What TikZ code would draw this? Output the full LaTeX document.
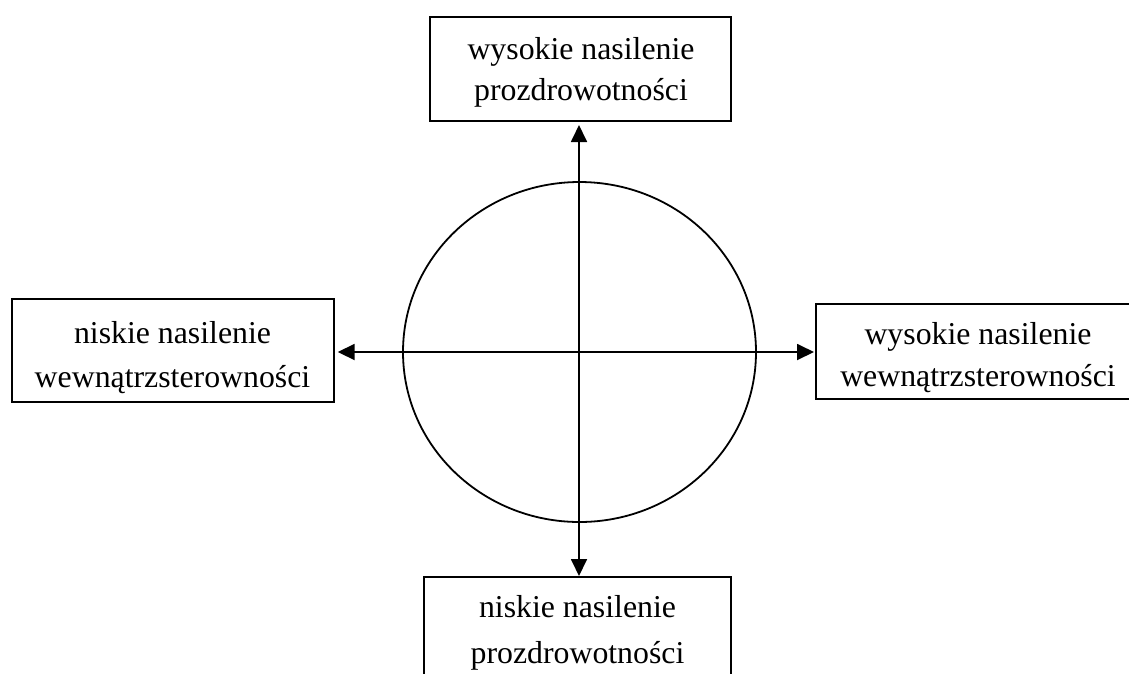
\documentclass[tikz,border=0pt]{standalone}
\usepackage{fontspec}
\setmainfont{Liberation Serif}
\usetikzlibrary{arrows.meta,shapes.geometric}
\begin{document}
\begin{tikzpicture}[x=1pt,y=-1pt,
  box/.style={draw,line width=1.8pt,rectangle,inner sep=0pt,outer sep=0pt},
  lbl/.style={align=center,anchor=base,inner sep=0pt},
  arr/.style={line width=1.8pt,{Triangle[length=17pt,width=16pt]}-{Triangle[length=17pt,width=16pt]}}]
\useasboundingbox (0,0) rectangle (1129,673);
\clip (0,0) rectangle (1129,673);
\node[draw,ellipse,line width=1.8pt,inner sep=0pt,minimum width=353pt,minimum height=340pt] (circ) at (579.5,352) {};
\coordinate (o) at (579,352);
\node[box,minimum width=301pt,minimum height=104pt] (top) at (580.5,69) {};
\node[box,minimum width=322pt,minimum height=103pt] (left) at (173,350.5) {};
\node[box,minimum width=324pt,minimum height=95pt] (right) at (978,351.5) {};
\node[box,minimum width=307pt,minimum height=104pt] (bottom) at (577.5,629) {};
\node[lbl,font=\fontsize{31.8}{41}\selectfont] (topT) at (581,100) {wysokie nasilenie\\prozdrowotności};
\node[lbl,font=\fontsize{31.8}{44}\selectfont] (leftT) at (172.5,387) {niskie nasilenie\\wewnątrzsterowności};
\node[lbl,font=\fontsize{31.8}{42}\selectfont] (rightT) at (978,386) {wysokie nasilenie\\wewnątrzsterowności};
\node[lbl,font=\fontsize{31.8}{46}\selectfont] (bottomT) at (577.5,663) {niskie nasilenie\\prozdrowotności};
\draw[arr,shorten <=4pt,shorten >=1pt] (top.south -| o) -- (bottom.north -| o);
\draw[arr,shorten <=3.7pt,shorten >=2pt] (left.east |- o) -- (right.west |- o);
\end{tikzpicture}
\end{document}
